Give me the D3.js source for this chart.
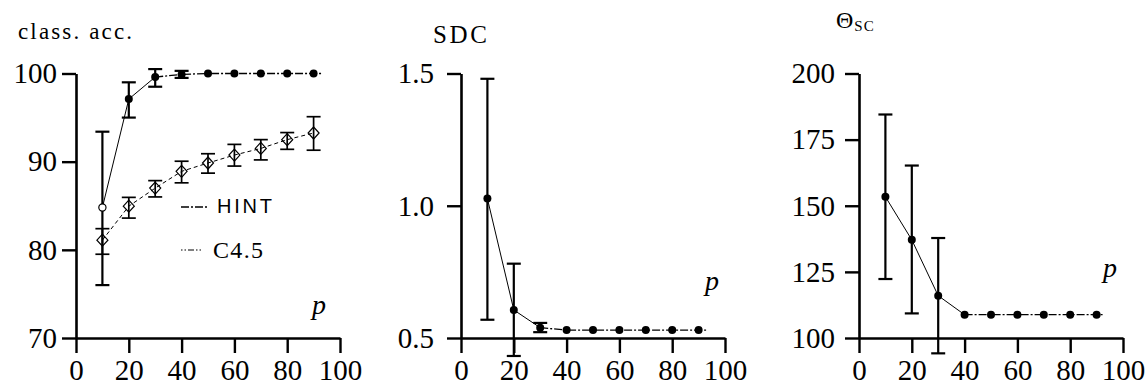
<!DOCTYPE html>
<html><head><meta charset="utf-8">
<script src="https://cdn.jsdelivr.net/npm/d3@7"></script>
<style>
body{margin:0;font-family:"Liberation Serif";}
svg text{font-family:"Liberation Serif";}
svg text.sans{font-family:"Liberation Sans";}
</style>
</head>
<body>
<svg id="chart" width="1147" height="385" font-family="Liberation Serif"></svg>
<script>
// ---------- data ----------
const pValues = [10, 20, 30, 40, 50, 60, 70, 80, 90];
const xTickValues = [0, 20, 40, 60, 80, 100];

// panel 1: classification accuracy
const accTicks = [70, 80, 90, 100];
const hintAcc   = [84.8, 97.1, 99.6, 99.9, 100, 100, 100, 100, 100];
const hintAccLo = [76.0, 95.0, 98.5, 99.5, null, null, null, null, null];
const hintAccHi = [93.4, 99.0, 100.5, 100.3, null, null, null, null, null];
const c45Acc    = [81.1, 84.95, 87.0, 88.9, 89.85, 90.75, 91.5, 92.5, 93.25];
const c45AccLo  = [79.5, 83.6, 86.0, 87.6, 88.7, 89.5, 90.2, 91.4, 91.3];
const c45AccHi  = [82.4, 85.95, 87.85, 90.05, 90.9, 91.96, 92.5, 93.3, 95.1];

// panel 2: SDC
const sdcTicks = [0.5, 1.0, 1.5];
const hintSdc   = [1.027, 0.606, 0.539, 0.53, 0.53, 0.53, 0.53, 0.53, 0.53];
const hintSdcLo = [0.569, 0.432, 0.522, null, null, null, null, null, null];
const hintSdcHi = [1.48, 0.781, 0.557, null, null, null, null, null, null];

// panel 3: Theta_SC
const thetaTicks = [100, 125, 150, 175, 200];
const hintTheta   = [153.4, 137.1, 116.0, 108.8, 108.8, 108.8, 108.8, 108.8, 108.8];
const hintThetaLo = [122.3, 109.3, 94.2, null, null, null, null, null, null];
const hintThetaHi = [184.5, 165.2, 137.8, null, null, null, null, null, null];

const legendLabels = ["HINT", "C4.5"];

// ---------- layout ----------
const svg = d3.select("#chart");
const axisY = 338, topY = 73.5, plotW = 264, tick = 14;
const HINT_DASH = "8,2,2,2";
const C45_DASH = "4,3";

const panels = [
  {x0: 76,  domain: [70, 100], ticks: accTicks, fmt: d3.format("d"), gap: 5,
   series: [{v: hintAcc, lo: hintAccLo, hi: hintAccHi, solidN: 3, kind: "hint"},
            {v: c45Acc, lo: c45AccLo, hi: c45AccHi, kind: "c45"}],
   pPos: [312, 314]},
  {x0: 461, domain: [0.5, 1.5], ticks: sdcTicks, fmt: d3.format(".1f"), gap: 13,
   series: [{v: hintSdc, lo: hintSdcLo, hi: hintSdcHi, solidN: 3, kind: "hint"}],
   pPos: [705, 290]},
  {x0: 859, domain: [100, 200], ticks: thetaTicks, fmt: d3.format("d"), gap: 10,
   series: [{v: hintTheta, lo: hintThetaLo, hi: hintThetaHi, solidN: 4, kind: "hint"}],
   pPos: [1103, 277]}
];

panels.forEach((P, pi) => {
  const x = d3.scaleLinear().domain([0, 100]).range([P.x0, P.x0 + plotW]);
  const y = d3.scaleLinear().domain(P.domain).range([axisY, topY]);
  const g = svg.append("g");

  const ya = g.append("g").attr("transform", `translate(${P.x0},0)`)
    .call(d3.axisLeft(y).tickValues(P.ticks).tickFormat(P.fmt)
      .tickSizeInner(tick).tickSizeOuter(0).tickPadding(P.gap));
  const xa = g.append("g").attr("transform", `translate(0,${axisY})`)
    .call(d3.axisBottom(x).tickValues(xTickValues).tickFormat(d3.format("d"))
      .tickSizeInner(15).tickSizeOuter(0));
  [ya, xa].forEach(a => {
    a.attr("font-family", "Liberation Serif").attr("font-size", 29);
    a.selectAll("path.domain").attr("stroke", "#000").attr("stroke-width", 2.6);
    a.selectAll(".tick line").attr("stroke", "#000").attr("stroke-width", 2.4);
    a.selectAll("text").attr("fill", "#000");
  });
  xa.selectAll("text").attr("y", 42).attr("dy", 0);

  const line = d3.line().x(d => x(d.p)).y(d => y(d.v));

  P.series.forEach(S => {
    const pts = pValues.map((p, i) => ({p, v: S.v[i], lo: S.lo[i], hi: S.hi[i], i}));
    if (S.kind === "hint") {
      const solid = pts.slice(0, S.solidN);
      const dashed = pts.slice(S.solidN - 1);
      g.append("path").attr("d", line(solid)).attr("fill", "none")
        .attr("stroke", "#000").attr("stroke-width", 1);
      g.append("path").attr("d", line(dashed) + "h8").attr("fill", "none")
        .attr("stroke", "#000").attr("stroke-width", 1.3).attr("stroke-dasharray", HINT_DASH);
    } else {
      g.append("path").attr("d", line(pts)).attr("fill", "none")
        .attr("stroke", "#000").attr("stroke-width", 1).attr("stroke-dasharray", C45_DASH);
    }
    const eb = pts.filter(d => d.lo != null);
    const sw = S.kind === "hint" ? 2.2 : 1.7;
    eb.forEach(d => {
      const cx = x(d.p);
      g.append("line").attr("x1", cx).attr("x2", cx).attr("y1", y(d.lo)).attr("y2", y(d.hi))
        .attr("stroke", "#000").attr("stroke-width", sw);
      [d.lo, d.hi].forEach(val => {
        g.append("line").attr("x1", cx - 7).attr("x2", cx + 7).attr("y1", y(val)).attr("y2", y(val))
          .attr("stroke", "#000").attr("stroke-width", sw);
      });
    });
    pts.forEach(d => {
      const cx = x(d.p), cy = y(d.v);
      if (S.kind === "hint") {
        if (pi === 0 && d.i === 0) {
          g.append("circle").attr("cx", cx).attr("cy", cy).attr("r", 3.6)
            .attr("fill", "#fff").attr("stroke", "#000").attr("stroke-width", 1.2);
        } else {
          g.append("circle").attr("cx", cx).attr("cy", cy).attr("r", 4).attr("fill", "#000");
        }
      } else {
        g.append("path")
          .attr("d", `M${cx},${cy - 6}L${cx + 5.5},${cy}L${cx},${cy + 6}L${cx - 5.5},${cy}Z`)
          .attr("fill", "none").attr("stroke", "#000").attr("stroke-width", 1.2);
      }
    });
  });

  g.append("text").attr("x", P.pPos[0]).attr("y", P.pPos[1])
    .attr("font-size", 28).attr("font-style", "italic").text("p");
});

// titles
svg.append("text").attr("x", 18).attr("y", 39).attr("font-size", 23)
  .attr("textLength", 114).attr("lengthAdjust", "spacing").text("class.  acc.");
svg.append("text").attr("x", 433).attr("y", 43).attr("font-size", 25)
  .attr("textLength", 54).attr("lengthAdjust", "spacing").text("SDC");
const th = svg.append("text").attr("x", 836).attr("y", 28).attr("font-size", 24);
th.append("tspan").text("Θ");
th.append("tspan").attr("font-size", 15).attr("dy", 3).attr("dx", 1)
  .attr("letter-spacing", 1).text("SC");

// legend
svg.append("line").attr("x1", 181).attr("x2", 208).attr("y1", 207).attr("y2", 207)
  .attr("stroke", "#000").attr("stroke-width", 1.3).attr("stroke-dasharray", HINT_DASH);
svg.append("text").attr("class", "sans").attr("font-family", "Liberation Sans")
  .attr("x", 217).attr("y", 213).attr("font-size", 20)
  .attr("textLength", 55).attr("lengthAdjust", "spacing").text(legendLabels[0]);
svg.append("line").attr("x1", 181).attr("x2", 203).attr("y1", 250).attr("y2", 250)
  .attr("stroke", "#000").attr("stroke-width", 1.2).attr("stroke-dasharray", "1.5,2,1.5,2,6,2");
svg.append("text").attr("x", 213).attr("y", 258).attr("font-size", 24)
  .attr("textLength", 50).attr("lengthAdjust", "spacing").text(legendLabels[1]);
</script>
</body></html>
